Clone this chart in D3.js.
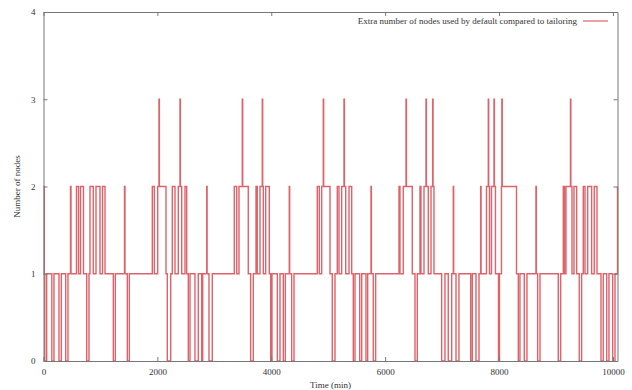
<!DOCTYPE html>
<html>
<head>
<meta charset="utf-8">
<script src="https://cdn.jsdelivr.net/npm/d3@7/dist/d3.min.js"></script>
<style>
  body { margin: 0; background: #fff; }
  svg { display: block; font-family: 'Liberation Serif', 'DejaVu Serif', serif; }
</style>
</head>
<body>
<div id="chart"></div>
<script>
const width = 632;
const height = 390;

// step series: value holds from times[i] until times[i+1]
const times = [
  0, 14, 23, 56, 146, 184, 272, 313, 390, 430,
  474, 483, 579, 615, 650, 702, 759, 799, 817, 874,
  922, 992, 1036, 1080, 1226, 1261, 1422, 1431, 1472, 1507,
  1911, 1946, 2005, 2028, 2035, 2151, 2174, 2234, 2262, 2309,
  2367, 2397, 2404, 2427, 2485, 2515, 2543, 2573, 2660, 2718,
  2778, 2796, 2866, 2873, 2906, 2964, 3350, 3393, 3433, 3491,
  3498, 3596, 3638, 3684, 3732, 3754, 3802, 3842, 3849, 3860,
  3902, 3965, 3990, 4012, 4106, 4153, 4211, 4246, 4316, 4323,
  4358, 4399, 4808, 4843, 4885, 4913, 4920, 5031, 5071, 5119,
  5159, 5189, 5236, 5277, 5284, 5307, 5365, 5412, 5440, 5470,
  5553, 5588, 5663, 5693, 5751, 5758, 5791, 5833, 6243, 6260,
  6318, 6366, 6373, 6476, 6524, 6564, 6611, 6629, 6682, 6717,
  6724, 6757, 6805, 6834, 6841, 6857, 6992, 7050, 7108, 7168,
  7196, 7203, 7244, 7296, 7502, 7530, 7595, 7648, 7677, 7684,
  7779, 7811, 7818, 7832, 7867, 7911, 7918, 7937, 7990, 8007,
  8042, 8049, 8056, 8306, 8338, 8367, 8443, 8490, 8648, 8655,
  8678, 8719, 9040, 9082, 9128, 9149, 9175, 9254, 9261, 9281,
  9316, 9363, 9408, 9450, 9479, 9509, 9556, 9626, 9672, 9720,
  9790, 9830, 9890, 9930, 9995, 10036, 10080,
];
const counts = [
  2, 1, 0, 1, 0, 1, 0, 1, 0, 1,
  2, 1, 2, 1, 2, 1, 0, 1, 2, 1,
  2, 1, 2, 1, 0, 1, 2, 1, 0, 1,
  2, 1, 2, 3, 2, 1, 0, 1, 2, 1,
  2, 3, 2, 1, 2, 1, 0, 1, 0, 1,
  0, 1, 2, 1, 0, 1, 2, 1, 2, 3,
  2, 1, 0, 1, 2, 1, 2, 3, 2, 1,
  2, 1, 0, 1, 0, 1, 0, 1, 2, 1,
  0, 1, 2, 1, 2, 3, 2, 1, 0, 1,
  2, 1, 2, 3, 2, 1, 2, 1, 0, 1,
  0, 1, 0, 1, 2, 1, 0, 1, 2, 1,
  2, 3, 2, 1, 0, 1, 2, 1, 2, 3,
  2, 1, 2, 3, 2, 1, 0, 1, 0, 1,
  2, 1, 0, 1, 0, 1, 0, 1, 2, 1,
  2, 3, 2, 1, 2, 3, 2, 1, 0, 1,
  2, 3, 2, 1, 0, 1, 0, 1, 2, 1,
  0, 1, 0, 1, 2, 1, 2, 3, 2, 1,
  2, 1, 0, 1, 2, 1, 2, 1, 2, 1,
  0, 1, 0, 1, 0, 1, 2,
];
const xTicks = [0, 2000, 4000, 6000, 8000, 10000];
const yTicks = [0, 1, 2, 3, 4];
const seriesName = 'Extra number of nodes used by default compared to tailoring';

const margin = {top: 12, right: 14.5, bottom: 29, left: 43.5};

const x = d3.scaleLinear().domain([0, 10080]).range([margin.left, width - margin.right]);
const y = d3.scaleLinear().domain([0, 4]).range([height - margin.bottom, margin.top]);

const svg = d3.select('#chart').append('svg')
  .attr('width', width)
  .attr('height', height);

const data = times.map((t, i)=>({t, v: counts[i]}));

const line = d3.line()
  .x((d)=>x(d.t))
  .y((d)=>y(d.v))
  .curve(d3.curveStepAfter);

svg.append('path')
  .datum(data)
  .attr('fill', 'none')
  .attr('stroke', '#d8474f')
  .attr('stroke-width', 1.4)
  .attr('stroke-opacity', 0.85)
  .attr('d', line);

// axes, ticks pointing inward (gnuplot style)
const axisColor = '#777';
const fmt = d3.format('d');
const xAxisBottom = svg.append('g')
  .attr('transform', `translate(0,${y(0)})`)
  .call(d3.axisBottom(x).tickValues(xTicks).tickFormat(fmt).tickSize(-4).tickSizeOuter(0).tickPadding(8));
const xAxisTop = svg.append('g')
  .attr('transform', `translate(0,${y(4)})`)
  .call(d3.axisTop(x).tickValues(xTicks).tickSize(-4).tickSizeOuter(0).tickFormat(''));
const yAxisLeft = svg.append('g')
  .attr('transform', `translate(${x(0)},0)`)
  .call(d3.axisLeft(y).tickValues(yTicks).tickFormat(fmt).tickSize(-4).tickSizeOuter(0).tickPadding(8));
const yAxisRight = svg.append('g')
  .attr('transform', `translate(${x(10080)},0)`)
  .call(d3.axisRight(y).tickValues(yTicks).tickSize(-4).tickSizeOuter(0).tickFormat(''));

[xAxisBottom, xAxisTop, yAxisLeft, yAxisRight].forEach((g)=>{
  g.selectAll('path, line').attr('stroke', axisColor);
  g.selectAll('text').attr('fill', '#333').style('font-size', '9px')
    .style('font-family', "'Liberation Serif', serif");
});

svg.append('text')
  .attr('x', (x(0) + x(10080)) / 2)
  .attr('y', 388)
  .attr('text-anchor', 'middle')
  .attr('fill', '#333')
  .style('font-size', '9px')
  .text('Time (min)');

svg.append('text')
  .attr('transform', `translate(20,${(y(0) + y(4)) / 2}) rotate(-90)`)
  .attr('text-anchor', 'middle')
  .attr('fill', '#333')
  .style('font-size', '9px')
  .text('Number of nodes');

// legend
const legend = svg.append('g').attr('transform', 'translate(577,21)');
legend.append('text')
  .attr('x', 0)
  .attr('y', 3)
  .attr('text-anchor', 'end')
  .attr('fill', '#333')
  .style('font-size', '9px')
  .text(seriesName);
legend.append('line')
  .attr('x1', 6).attr('x2', 31)
  .attr('y1', 0).attr('y2', 0)
  .attr('stroke', '#d8474f')
  .attr('stroke-width', 1);
</script>
</body>
</html>
